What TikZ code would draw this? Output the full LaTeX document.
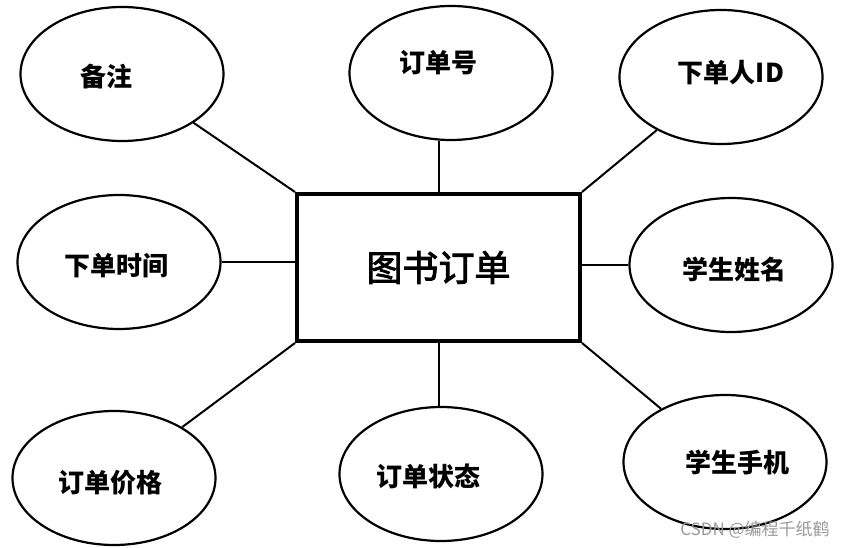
\documentclass[tikz,border=0pt]{standalone}
\usepackage{fontspec}
\newfontfamily\cjk{Noto Sans CJK SC}
\newfontfamily\cjkmid[FakeBold=2.5]{Noto Sans CJK SC}
\usetikzlibrary{shapes.geometric}
\begin{document}
\begin{tikzpicture}[x=1pt,y=-1pt,
  attr/.style={ellipse,draw,line width=2.2pt,minimum width=203pt,minimum height=134pt,inner sep=0pt},
  link/.style={line width=2pt},
  lbl/.style={font=\cjk\bfseries\fontsize{26}{26}\selectfont}]
\useasboundingbox (0,0) rectangle (855,548);
\node[draw,line width=4pt,minimum width=283pt,minimum height=147pt,font=\cjkmid\fontsize{36}{36}\selectfont] (box) at (438.5,267.5) {图书订单};
\node[attr,label={[lbl,xshift=-16pt,yshift=-3pt]center:备注}] (bz) at (122,74) {};
\node[attr,label={[lbl,xshift=-13pt,yshift=10pt]center:订单号}] (ddh) at (451,73) {};
\node[attr,label={[lbl,xshift=10pt,yshift=4pt]center:下单人ID}] (xdr) at (721,77) {};
\node[attr,label={[lbl,xshift=-3pt,yshift=-4pt]center:下单时间}] (xdsj) at (119,262) {};
\node[attr,label={[lbl,xshift=3pt,yshift=-4pt]center:学生姓名}] (xsxm) at (731,265) {};
\node[attr,label={[lbl,xshift=-4pt,yshift=-5pt]center:订单价格}] (ddjg) at (114,478) {};
\node[attr,label={[lbl,xshift=-13pt,yshift=-2pt]center:订单状态}] (ddzt) at (441,474) {};
\node[attr,label={[lbl,xshift=12pt,yshift=-1pt]center:学生手机}] (xssj) at (725,462) {};
\draw[link] (bz) -- (box.north west);
\draw[link] (box.north) -- (box.north |- ddh.south);
\draw[link] (xdr) -- (box.north east);
\draw[link] (xdsj) -- (xdsj -| box.west);
\draw[link] (xsxm) -- (xsxm -| box.east);
\draw[link] (ddjg) -- (box.south west);
\draw[link] (box.south) -- (box.south |- ddzt.north);
\draw[link] (xssj) -- (box.south east);
\node[text=black!40,font=\cjk\fontsize{17}{17}\selectfont] (wm) at (755,530) {CSDN @编程千纸鹤};
\end{tikzpicture}
\end{document}
